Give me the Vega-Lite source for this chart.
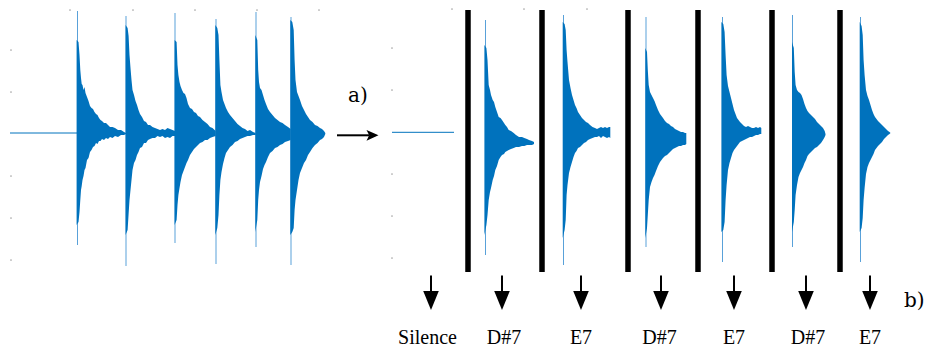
{
  "$schema": "https://vega.github.io/schema/vega-lite/v6.json",
  "width": 925,
  "height": 349,
  "autosize": {"type": "fit", "contains": "padding"},
  "padding": 0,
  "background": "white",
  "config": {"view": {"stroke": null}},
  "datasets": {
    "wave": [
      {"seg": "L1", "x": 76.6, "hi": 40, "lo": 225}, {"seg": "L1", "x": 78.5, "hi": 42, "lo": 222}, {"seg": "L1", "x": 79.5, "hi": 55, "lo": 212}, {"seg": "L1", "x": 80.3, "hi": 70, "lo": 200}, {"seg": "L1", "x": 81, "hi": 78, "lo": 190}, {"seg": "L1", "x": 81.7, "hi": 84, "lo": 186}, {"seg": "L1", "x": 82.5, "hi": 85, "lo": 180}, {"seg": "L1", "x": 83.5, "hi": 90, "lo": 176}, {"seg": "L1", "x": 84.5, "hi": 87, "lo": 170}, {"seg": "L1", "x": 85.5, "hi": 93, "lo": 168}, {"seg": "L1", "x": 87, "hi": 97, "lo": 160}, {"seg": "L1", "x": 88.5, "hi": 101, "lo": 158}, {"seg": "L1", "x": 90, "hi": 106, "lo": 152}, {"seg": "L1", "x": 91.5, "hi": 108, "lo": 150}, {"seg": "L1", "x": 93, "hi": 109, "lo": 147}, {"seg": "L1", "x": 94.5, "hi": 112, "lo": 146}, {"seg": "L1", "x": 96, "hi": 114, "lo": 143}, {"seg": "L1", "x": 97.5, "hi": 115, "lo": 144}, {"seg": "L1", "x": 99, "hi": 118, "lo": 141}, {"seg": "L1", "x": 100.5, "hi": 120, "lo": 141}, {"seg": "L1", "x": 102, "hi": 121, "lo": 139}, {"seg": "L1", "x": 104, "hi": 123, "lo": 140}, {"seg": "L1", "x": 106, "hi": 123, "lo": 138}, {"seg": "L1", "x": 108, "hi": 125, "lo": 139}, {"seg": "L1", "x": 110, "hi": 127, "lo": 137}, {"seg": "L1", "x": 112.5, "hi": 127, "lo": 138}, {"seg": "L1", "x": 115, "hi": 128, "lo": 136}, {"seg": "L1", "x": 118, "hi": 130, "lo": 137}, {"seg": "L1", "x": 121, "hi": 130, "lo": 135}, {"seg": "L1", "x": 124, "hi": 132, "lo": 135}, {"seg": "L1", "x": 126, "hi": 133, "lo": 134},
      {"seg": "L2", "x": 125.6, "hi": 25, "lo": 235}, {"seg": "L2", "x": 127.6, "hi": 28, "lo": 230}, {"seg": "L2", "x": 128.6, "hi": 36, "lo": 214}, {"seg": "L2", "x": 129.5, "hi": 55, "lo": 200}, {"seg": "L2", "x": 130.5, "hi": 68, "lo": 190}, {"seg": "L2", "x": 131.5, "hi": 80, "lo": 180}, {"seg": "L2", "x": 132.5, "hi": 90, "lo": 170}, {"seg": "L2", "x": 134, "hi": 95, "lo": 163}, {"seg": "L2", "x": 135.5, "hi": 101, "lo": 160}, {"seg": "L2", "x": 137, "hi": 105, "lo": 155}, {"seg": "L2", "x": 138.5, "hi": 110, "lo": 152}, {"seg": "L2", "x": 140, "hi": 114, "lo": 148}, {"seg": "L2", "x": 142, "hi": 117, "lo": 147}, {"seg": "L2", "x": 144, "hi": 121, "lo": 143}, {"seg": "L2", "x": 146, "hi": 122, "lo": 143}, {"seg": "L2", "x": 148, "hi": 125, "lo": 140}, {"seg": "L2", "x": 150, "hi": 125, "lo": 139}, {"seg": "L2", "x": 152.5, "hi": 127, "lo": 138}, {"seg": "L2", "x": 155, "hi": 128, "lo": 138}, {"seg": "L2", "x": 157.5, "hi": 129, "lo": 136}, {"seg": "L2", "x": 160, "hi": 130, "lo": 137}, {"seg": "L2", "x": 162.5, "hi": 129, "lo": 136}, {"seg": "L2", "x": 165, "hi": 130, "lo": 138}, {"seg": "L2", "x": 167.5, "hi": 128, "lo": 137}, {"seg": "L2", "x": 170, "hi": 129, "lo": 138}, {"seg": "L2", "x": 172.5, "hi": 130, "lo": 136}, {"seg": "L2", "x": 175, "hi": 131, "lo": 136},
      {"seg": "L3", "x": 174.6, "hi": 40, "lo": 225}, {"seg": "L3", "x": 176.6, "hi": 42, "lo": 220}, {"seg": "L3", "x": 177.5, "hi": 65, "lo": 205}, {"seg": "L3", "x": 178.4, "hi": 75, "lo": 195}, {"seg": "L3", "x": 179.5, "hi": 82, "lo": 188}, {"seg": "L3", "x": 180.5, "hi": 86, "lo": 182}, {"seg": "L3", "x": 182, "hi": 90, "lo": 175}, {"seg": "L3", "x": 183.5, "hi": 93, "lo": 171}, {"seg": "L3", "x": 185, "hi": 94, "lo": 167}, {"seg": "L3", "x": 186.5, "hi": 98, "lo": 163}, {"seg": "L3", "x": 188, "hi": 104, "lo": 160}, {"seg": "L3", "x": 190, "hi": 108, "lo": 155}, {"seg": "L3", "x": 192, "hi": 109, "lo": 152}, {"seg": "L3", "x": 194, "hi": 112, "lo": 149}, {"seg": "L3", "x": 196, "hi": 113, "lo": 147}, {"seg": "L3", "x": 198, "hi": 116, "lo": 145}, {"seg": "L3", "x": 200, "hi": 117, "lo": 143}, {"seg": "L3", "x": 202.5, "hi": 120, "lo": 142}, {"seg": "L3", "x": 205, "hi": 122, "lo": 140}, {"seg": "L3", "x": 207.5, "hi": 124, "lo": 140}, {"seg": "L3", "x": 210, "hi": 127, "lo": 138}, {"seg": "L3", "x": 212.5, "hi": 128, "lo": 137}, {"seg": "L3", "x": 215.7, "hi": 131, "lo": 136},
      {"seg": "L4", "x": 215.3, "hi": 25, "lo": 235}, {"seg": "L4", "x": 217.3, "hi": 28, "lo": 228}, {"seg": "L4", "x": 218.5, "hi": 35, "lo": 215}, {"seg": "L4", "x": 219.4, "hi": 60, "lo": 195}, {"seg": "L4", "x": 220.4, "hi": 85, "lo": 180}, {"seg": "L4", "x": 221.5, "hi": 92, "lo": 172}, {"seg": "L4", "x": 223, "hi": 100, "lo": 164}, {"seg": "L4", "x": 224.5, "hi": 104, "lo": 158}, {"seg": "L4", "x": 226, "hi": 108, "lo": 153}, {"seg": "L4", "x": 228, "hi": 112, "lo": 150}, {"seg": "L4", "x": 230, "hi": 115, "lo": 147}, {"seg": "L4", "x": 232.5, "hi": 118, "lo": 145}, {"seg": "L4", "x": 235, "hi": 121, "lo": 142}, {"seg": "L4", "x": 237.5, "hi": 124, "lo": 141}, {"seg": "L4", "x": 240, "hi": 126, "lo": 139}, {"seg": "L4", "x": 242.5, "hi": 128, "lo": 138}, {"seg": "L4", "x": 245, "hi": 129, "lo": 137}, {"seg": "L4", "x": 247.5, "hi": 131, "lo": 136}, {"seg": "L4", "x": 250, "hi": 130, "lo": 136}, {"seg": "L4", "x": 253, "hi": 132, "lo": 135}, {"seg": "L4", "x": 255.7, "hi": 133, "lo": 135},
      {"seg": "L5", "x": 255.3, "hi": 35, "lo": 232}, {"seg": "L5", "x": 257.3, "hi": 40, "lo": 220}, {"seg": "L5", "x": 258.2, "hi": 70, "lo": 200}, {"seg": "L5", "x": 259, "hi": 82, "lo": 190}, {"seg": "L5", "x": 260, "hi": 88, "lo": 182}, {"seg": "L5", "x": 261.5, "hi": 90, "lo": 176}, {"seg": "L5", "x": 263, "hi": 95, "lo": 169}, {"seg": "L5", "x": 264.5, "hi": 100, "lo": 165}, {"seg": "L5", "x": 266, "hi": 104, "lo": 162}, {"seg": "L5", "x": 268, "hi": 109, "lo": 157}, {"seg": "L5", "x": 270, "hi": 112, "lo": 153}, {"seg": "L5", "x": 272.5, "hi": 115, "lo": 151}, {"seg": "L5", "x": 275, "hi": 118, "lo": 148}, {"seg": "L5", "x": 277.5, "hi": 120, "lo": 147}, {"seg": "L5", "x": 280, "hi": 122, "lo": 145}, {"seg": "L5", "x": 282.5, "hi": 123, "lo": 144}, {"seg": "L5", "x": 285, "hi": 125, "lo": 142}, {"seg": "L5", "x": 288, "hi": 127, "lo": 141}, {"seg": "L5", "x": 290.7, "hi": 129, "lo": 140},
      {"seg": "L6", "x": 290.3, "hi": 20, "lo": 235}, {"seg": "L6", "x": 292.3, "hi": 22, "lo": 232}, {"seg": "L6", "x": 293.7, "hi": 30, "lo": 228}, {"seg": "L6", "x": 294.6, "hi": 60, "lo": 210}, {"seg": "L6", "x": 295.5, "hi": 80, "lo": 200}, {"seg": "L6", "x": 297, "hi": 92, "lo": 190}, {"seg": "L6", "x": 298.5, "hi": 96, "lo": 180}, {"seg": "L6", "x": 300, "hi": 100, "lo": 173}, {"seg": "L6", "x": 302, "hi": 106, "lo": 168}, {"seg": "L6", "x": 304, "hi": 110, "lo": 163}, {"seg": "L6", "x": 306, "hi": 114, "lo": 160}, {"seg": "L6", "x": 308, "hi": 117, "lo": 155}, {"seg": "L6", "x": 310, "hi": 120, "lo": 152}, {"seg": "L6", "x": 312.5, "hi": 122, "lo": 148}, {"seg": "L6", "x": 315, "hi": 125, "lo": 145}, {"seg": "L6", "x": 317.5, "hi": 126, "lo": 143}, {"seg": "L6", "x": 320, "hi": 128, "lo": 140}, {"seg": "L6", "x": 322, "hi": 129, "lo": 139}, {"seg": "L6", "x": 324, "hi": 131, "lo": 137}, {"seg": "L6", "x": 325.3, "hi": 133, "lo": 134},
      {"seg": "R1", "x": 484.4, "hi": 45, "lo": 235}, {"seg": "R1", "x": 486.4, "hi": 48, "lo": 225}, {"seg": "R1", "x": 487.5, "hi": 60, "lo": 215}, {"seg": "R1", "x": 488.7, "hi": 85, "lo": 200}, {"seg": "R1", "x": 490, "hi": 90, "lo": 192}, {"seg": "R1", "x": 491, "hi": 95, "lo": 188}, {"seg": "R1", "x": 492.7, "hi": 100, "lo": 180}, {"seg": "R1", "x": 494, "hi": 102, "lo": 176}, {"seg": "R1", "x": 495.3, "hi": 107, "lo": 170}, {"seg": "R1", "x": 497, "hi": 112, "lo": 166}, {"seg": "R1", "x": 498.7, "hi": 117, "lo": 160}, {"seg": "R1", "x": 500.5, "hi": 118, "lo": 157}, {"seg": "R1", "x": 502, "hi": 120, "lo": 155}, {"seg": "R1", "x": 504, "hi": 123, "lo": 154}, {"seg": "R1", "x": 505.3, "hi": 125, "lo": 152}, {"seg": "R1", "x": 507, "hi": 127, "lo": 151}, {"seg": "R1", "x": 508.7, "hi": 130, "lo": 150}, {"seg": "R1", "x": 511, "hi": 131, "lo": 149}, {"seg": "R1", "x": 513.7, "hi": 133, "lo": 148}, {"seg": "R1", "x": 516, "hi": 135, "lo": 147}, {"seg": "R1", "x": 519, "hi": 137, "lo": 147}, {"seg": "R1", "x": 522, "hi": 137, "lo": 146}, {"seg": "R1", "x": 524.3, "hi": 138, "lo": 146}, {"seg": "R1", "x": 527, "hi": 139, "lo": 145}, {"seg": "R1", "x": 529, "hi": 140, "lo": 145}, {"seg": "R1", "x": 532, "hi": 141, "lo": 145}, {"seg": "R1", "x": 534, "hi": 142, "lo": 144},
      {"seg": "R2", "x": 562.7, "hi": 22, "lo": 238}, {"seg": "R2", "x": 564.6, "hi": 24, "lo": 230}, {"seg": "R2", "x": 565.7, "hi": 30, "lo": 220}, {"seg": "R2", "x": 566.6, "hi": 50, "lo": 195}, {"seg": "R2", "x": 567.5, "hi": 62, "lo": 185}, {"seg": "R2", "x": 569, "hi": 80, "lo": 173}, {"seg": "R2", "x": 570.5, "hi": 88, "lo": 167}, {"seg": "R2", "x": 572, "hi": 95, "lo": 162}, {"seg": "R2", "x": 573.5, "hi": 100, "lo": 157}, {"seg": "R2", "x": 575, "hi": 105, "lo": 153}, {"seg": "R2", "x": 576.5, "hi": 108, "lo": 151}, {"seg": "R2", "x": 578, "hi": 112, "lo": 148}, {"seg": "R2", "x": 580, "hi": 115, "lo": 147}, {"seg": "R2", "x": 582, "hi": 118, "lo": 145}, {"seg": "R2", "x": 584, "hi": 120, "lo": 143}, {"seg": "R2", "x": 586, "hi": 122, "lo": 142}, {"seg": "R2", "x": 588, "hi": 123, "lo": 140}, {"seg": "R2", "x": 590, "hi": 125, "lo": 139}, {"seg": "R2", "x": 592.5, "hi": 127, "lo": 138}, {"seg": "R2", "x": 595, "hi": 128, "lo": 137}, {"seg": "R2", "x": 597, "hi": 129, "lo": 137}, {"seg": "R2", "x": 599, "hi": 128, "lo": 136}, {"seg": "R2", "x": 601, "hi": 127, "lo": 138}, {"seg": "R2", "x": 603, "hi": 128, "lo": 136}, {"seg": "R2", "x": 605, "hi": 127, "lo": 137}, {"seg": "R2", "x": 607, "hi": 128, "lo": 138}, {"seg": "R2", "x": 609, "hi": 127, "lo": 137}, {"seg": "R2", "x": 610.3, "hi": 127, "lo": 138},
      {"seg": "R3", "x": 645.3, "hi": 48, "lo": 238}, {"seg": "R3", "x": 647, "hi": 52, "lo": 228}, {"seg": "R3", "x": 647.8, "hi": 70, "lo": 215}, {"seg": "R3", "x": 648.7, "hi": 85, "lo": 200}, {"seg": "R3", "x": 650, "hi": 92, "lo": 187}, {"seg": "R3", "x": 651.5, "hi": 95, "lo": 182}, {"seg": "R3", "x": 653, "hi": 98, "lo": 178}, {"seg": "R3", "x": 654.5, "hi": 101, "lo": 175}, {"seg": "R3", "x": 656, "hi": 105, "lo": 171}, {"seg": "R3", "x": 658, "hi": 110, "lo": 166}, {"seg": "R3", "x": 660, "hi": 114, "lo": 162}, {"seg": "R3", "x": 661.5, "hi": 116, "lo": 160}, {"seg": "R3", "x": 663, "hi": 118, "lo": 158}, {"seg": "R3", "x": 665, "hi": 121, "lo": 156}, {"seg": "R3", "x": 667, "hi": 123, "lo": 155}, {"seg": "R3", "x": 669, "hi": 124, "lo": 153}, {"seg": "R3", "x": 671, "hi": 126, "lo": 151}, {"seg": "R3", "x": 673, "hi": 127, "lo": 149}, {"seg": "R3", "x": 675, "hi": 129, "lo": 148}, {"seg": "R3", "x": 677, "hi": 130, "lo": 147}, {"seg": "R3", "x": 679, "hi": 131, "lo": 146}, {"seg": "R3", "x": 681, "hi": 132, "lo": 146}, {"seg": "R3", "x": 683, "hi": 132, "lo": 145}, {"seg": "R3", "x": 685, "hi": 133, "lo": 145}, {"seg": "R3", "x": 686.3, "hi": 133, "lo": 144},
      {"seg": "R4", "x": 721.4, "hi": 22, "lo": 232}, {"seg": "R4", "x": 723.3, "hi": 24, "lo": 230}, {"seg": "R4", "x": 724.6, "hi": 32, "lo": 222}, {"seg": "R4", "x": 725.6, "hi": 55, "lo": 200}, {"seg": "R4", "x": 726.6, "hi": 75, "lo": 185}, {"seg": "R4", "x": 728, "hi": 86, "lo": 170}, {"seg": "R4", "x": 729.5, "hi": 92, "lo": 163}, {"seg": "R4", "x": 731, "hi": 98, "lo": 158}, {"seg": "R4", "x": 732.5, "hi": 104, "lo": 153}, {"seg": "R4", "x": 734, "hi": 110, "lo": 150}, {"seg": "R4", "x": 735.5, "hi": 114, "lo": 148}, {"seg": "R4", "x": 737, "hi": 118, "lo": 146}, {"seg": "R4", "x": 738.5, "hi": 120, "lo": 144}, {"seg": "R4", "x": 740, "hi": 122, "lo": 142}, {"seg": "R4", "x": 742, "hi": 124, "lo": 141}, {"seg": "R4", "x": 744, "hi": 126, "lo": 140}, {"seg": "R4", "x": 746, "hi": 127, "lo": 139}, {"seg": "R4", "x": 748, "hi": 126, "lo": 138}, {"seg": "R4", "x": 750, "hi": 127, "lo": 137}, {"seg": "R4", "x": 752, "hi": 128, "lo": 137}, {"seg": "R4", "x": 754, "hi": 128, "lo": 136}, {"seg": "R4", "x": 756, "hi": 127, "lo": 135}, {"seg": "R4", "x": 758, "hi": 128, "lo": 135}, {"seg": "R4", "x": 760, "hi": 127, "lo": 134}, {"seg": "R4", "x": 761.3, "hi": 128, "lo": 134},
      {"seg": "R5", "x": 792, "hi": 42, "lo": 232}, {"seg": "R5", "x": 793.8, "hi": 48, "lo": 222}, {"seg": "R5", "x": 794.7, "hi": 72, "lo": 210}, {"seg": "R5", "x": 795.6, "hi": 85, "lo": 195}, {"seg": "R5", "x": 797, "hi": 90, "lo": 185}, {"seg": "R5", "x": 798.5, "hi": 92, "lo": 177}, {"seg": "R5", "x": 800, "hi": 93, "lo": 173}, {"seg": "R5", "x": 801.5, "hi": 95, "lo": 170}, {"seg": "R5", "x": 803, "hi": 99, "lo": 167}, {"seg": "R5", "x": 804.5, "hi": 104, "lo": 163}, {"seg": "R5", "x": 806, "hi": 108, "lo": 160}, {"seg": "R5", "x": 807.5, "hi": 111, "lo": 156}, {"seg": "R5", "x": 809, "hi": 113, "lo": 154}, {"seg": "R5", "x": 811, "hi": 115, "lo": 152}, {"seg": "R5", "x": 813, "hi": 117, "lo": 150}, {"seg": "R5", "x": 815, "hi": 119, "lo": 148}, {"seg": "R5", "x": 817, "hi": 122, "lo": 147}, {"seg": "R5", "x": 819, "hi": 124, "lo": 145}, {"seg": "R5", "x": 821, "hi": 126, "lo": 143}, {"seg": "R5", "x": 823, "hi": 128, "lo": 140}, {"seg": "R5", "x": 824.7, "hi": 131, "lo": 137}, {"seg": "R5", "x": 825.5, "hi": 134, "lo": 135},
      {"seg": "R6", "x": 859.7, "hi": 22, "lo": 232}, {"seg": "R6", "x": 861.6, "hi": 26, "lo": 228}, {"seg": "R6", "x": 862.7, "hi": 35, "lo": 218}, {"seg": "R6", "x": 863.6, "hi": 60, "lo": 200}, {"seg": "R6", "x": 864.6, "hi": 75, "lo": 188}, {"seg": "R6", "x": 866, "hi": 90, "lo": 174}, {"seg": "R6", "x": 867.5, "hi": 96, "lo": 167}, {"seg": "R6", "x": 869, "hi": 100, "lo": 163}, {"seg": "R6", "x": 870.5, "hi": 105, "lo": 160}, {"seg": "R6", "x": 872, "hi": 110, "lo": 157}, {"seg": "R6", "x": 873.5, "hi": 114, "lo": 154}, {"seg": "R6", "x": 875, "hi": 117, "lo": 150}, {"seg": "R6", "x": 876.5, "hi": 119, "lo": 148}, {"seg": "R6", "x": 878, "hi": 121, "lo": 146}, {"seg": "R6", "x": 880, "hi": 123, "lo": 144}, {"seg": "R6", "x": 882, "hi": 125, "lo": 142}, {"seg": "R6", "x": 884, "hi": 127, "lo": 139}, {"seg": "R6", "x": 886, "hi": 129, "lo": 137}, {"seg": "R6", "x": 888, "hi": 131, "lo": 135}, {"seg": "R6", "x": 889.5, "hi": 132, "lo": 134}, {"seg": "R6", "x": 890.5, "hi": 133, "lo": 133}
    ],
    "spikes": [
      {"x": 77.5, "top": 11, "bottom": 245}, {"x": 126, "top": 16, "bottom": 266}, {"x": 175, "top": 13, "bottom": 243}, {"x": 216, "top": 19, "bottom": 264}, {"x": 256, "top": 12, "bottom": 247}, {"x": 291, "top": 17, "bottom": 265},
      {"x": 485.5, "top": 20, "bottom": 255}, {"x": 563.5, "top": 15, "bottom": 265}, {"x": 646, "top": 17, "bottom": 247}, {"x": 722.5, "top": 17, "bottom": 262}, {"x": 792.5, "top": 15, "bottom": 247}, {"x": 860.5, "top": 17, "bottom": 262}
    ],
    "silence": [
      {"x": 10, "x2": 77, "y": 133},
      {"x": 392, "x2": 454, "y": 132.3}
    ],
    "bars": [
      {"x": 468}, {"x": 542}, {"x": 628}, {"x": 698}, {"x": 772}, {"x": 840}
    ],
    "downArrows": [
      {"x": 431}, {"x": 502}, {"x": 581}, {"x": 661}, {"x": 734}, {"x": 806}, {"x": 870}
    ],
    "labels": [
      {"x": 427.5, "text": "Silence"}, {"x": 504, "text": "D#7"}, {"x": 581, "text": "E7"}, {"x": 659.5, "text": "D#7"}, {"x": 734, "text": "E7"}, {"x": 808, "text": "D#7"}, {"x": 870, "text": "E7"}
    ],
    "ticks": [
      {"x": 11, "y": 50}, {"x": 11, "y": 92}, {"x": 11, "y": 176}, {"x": 11, "y": 218}, {"x": 11, "y": 260},
      {"x": 70, "y": 10}, {"x": 133, "y": 10}, {"x": 195, "y": 10}, {"x": 257, "y": 10}, {"x": 319, "y": 10},
      {"x": 392, "y": 48}, {"x": 392, "y": 90}, {"x": 392, "y": 174}, {"x": 392, "y": 216}, {"x": 392, "y": 258},
      {"x": 452, "y": 9}, {"x": 524, "y": 9}, {"x": 587, "y": 9}
    ]
  },
  "layer": [
    {
      "data": {"name": "ticks"},
      "mark": {"type": "point", "filled": true, "size": 3, "color": "#a8a8a8", "opacity": 1},
      "encoding": {
        "x": {"field": "x", "type": "quantitative", "scale": {"domain": [0, 925], "nice": false, "zero": false}, "axis": null},
        "y": {"field": "y", "type": "quantitative", "scale": {"domain": [0, 349], "nice": false, "zero": false, "reverse": true}, "axis": null}
      }
    },
    {
      "data": {"name": "silence"},
      "mark": {"type": "rule", "color": "#0072BD", "strokeWidth": 1},
      "encoding": {
        "x": {"field": "x", "type": "quantitative"},
        "x2": {"field": "x2"},
        "y": {"field": "y", "type": "quantitative"}
      }
    },
    {
      "data": {"name": "spikes"},
      "mark": {"type": "rule", "color": "#2f8ad0", "strokeWidth": 1, "opacity": 0.8},
      "encoding": {
        "x": {"field": "x", "type": "quantitative"},
        "y": {"field": "top", "type": "quantitative"},
        "y2": {"field": "bottom"}
      }
    },
    {
      "data": {"name": "wave"},
      "mark": {"type": "area", "color": "#0072BD", "interpolate": "linear", "opacity": 1},
      "encoding": {
        "x": {"field": "x", "type": "quantitative"},
        "y": {"field": "hi", "type": "quantitative"},
        "y2": {"field": "lo"},
        "detail": {"field": "seg", "type": "nominal"}
      }
    },
    {
      "data": {"name": "bars"},
      "mark": {"type": "rule", "color": "black", "strokeWidth": 5.5},
      "encoding": {
        "x": {"field": "x", "type": "quantitative"},
        "y": {"datum": 10},
        "y2": {"datum": 272}
      }
    },
    {
      "data": {"values": [{"x": 337, "x2": 369, "y": 135.3}]},
      "mark": {"type": "rule", "color": "black", "strokeWidth": 2},
      "encoding": {
        "x": {"field": "x", "type": "quantitative"},
        "x2": {"field": "x2"},
        "y": {"field": "y", "type": "quantitative"}
      }
    },
    {
      "data": {"values": [{"x": 372.5, "y": 135.3}]},
      "mark": {"type": "point", "filled": true, "color": "black", "opacity": 1, "size": 144, "shape": "M-1,-0.9L1,0L-1,0.9L-0.55,0Z"},
      "encoding": {
        "x": {"field": "x", "type": "quantitative"},
        "y": {"field": "y", "type": "quantitative"}
      }
    },
    {
      "data": {"values": [{"x": 348, "y": 102, "text": "a)"}, {"x": 904, "y": 307, "text": "b)"}]},
      "mark": {"type": "text", "font": "DejaVu Serif", "fontSize": 20, "align": "left", "baseline": "alphabetic", "color": "black"},
      "encoding": {
        "x": {"field": "x", "type": "quantitative"},
        "y": {"field": "y", "type": "quantitative"},
        "text": {"field": "text"}
      }
    },
    {
      "data": {"name": "downArrows"},
      "mark": {"type": "rule", "color": "black", "strokeWidth": 2},
      "encoding": {
        "x": {"field": "x", "type": "quantitative"},
        "y": {"datum": 275.5},
        "y2": {"datum": 294}
      }
    },
    {
      "data": {"name": "downArrows"},
      "mark": {"type": "point", "filled": true, "color": "black", "opacity": 1, "size": 361, "shape": "M-0.82,-1L0.82,-1L0,1Z"},
      "encoding": {
        "x": {"field": "x", "type": "quantitative"},
        "y": {"datum": 300.5}
      }
    },
    {
      "data": {"name": "labels"},
      "mark": {"type": "text", "font": "Times New Roman", "fontSize": 20, "align": "center", "baseline": "alphabetic", "color": "black"},
      "encoding": {
        "x": {"field": "x", "type": "quantitative"},
        "y": {"datum": 344},
        "text": {"field": "text"}
      }
    }
  ]
}
